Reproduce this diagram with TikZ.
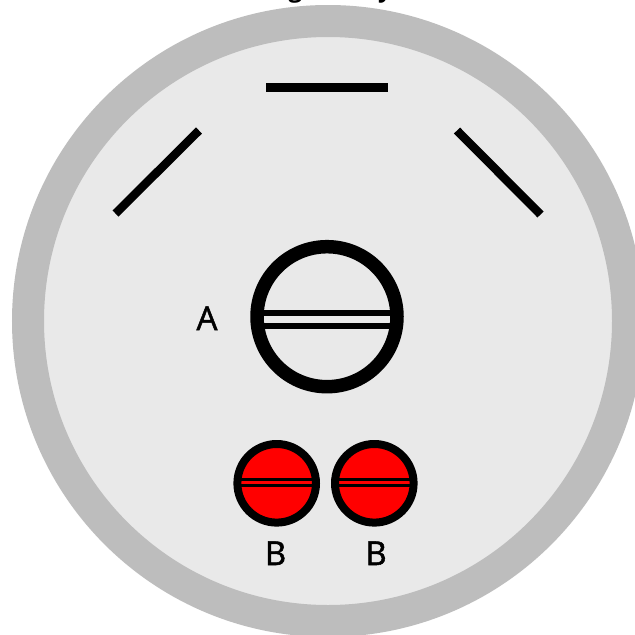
\documentclass[tikz,border=0pt]{standalone}
\usepackage{fontspec}
\setmainfont{Open Sans}
\newfontfamily\lblfont[FakeBold=1.5]{Open Sans}
\definecolor{ringgray}{HTML}{BDBDBD}
\definecolor{dishgray}{HTML}{E9E9E9}
\tikzset{
  px/.style={x=1pt,y=-1pt},
  lbl/.style={font=\lblfont\fontsize{33}{36}\selectfont,inner sep=0pt,text=black},
  cut/.style={font=\fontsize{24}{28}\selectfont\bfseries,inner sep=0pt,text=black},
  bar/.style={line width=#1,draw=black,line cap=butt},
  mark circle/.style={circle,draw=black,inner sep=0pt,outer sep=0pt}
}
\begin{document}
\begin{tikzpicture}[px]
\useasboundingbox (0,0) rectangle (635,635);
\clip (0,0) rectangle (635,635);
\fill[white] (0,0) rectangle (635,635);
\node[cut,anchor=base] (tg) at (295.5,-2.5) {g};
\node[cut,anchor=base] (ty) at (385,-2.5) {y};
\node[circle,fill=dishgray,draw=ringgray,line width=32pt,minimum size=600pt,inner sep=0pt,outer sep=0pt] (dish) at (328,321) {};
% slits
\coordinate (t1) at (266.3,87.5); \coordinate (t2) at (388.3,87.5);
\draw[bar=8.5pt] (t1) -- (t2);
\coordinate (l1) at (115.5,213.5); \coordinate (l2) at (199,130.5);
\draw[bar=8.5pt] (l1) -- (l2);
\coordinate (r1) at (540.5,214.5); \coordinate (r2) at (457,130.5);
\draw[bar=8.5pt] (r1) -- (r2);
% A
\draw[bar=6pt] (255,313.3) -- (399,313.3);
\draw[bar=6pt] (255,326) -- (399,326);
\node[mark circle,line width=13.5pt,minimum size=140pt] (a) at (327,316.7) {};
\node[lbl,anchor=base] (la) at (207,330) {A};
% B
\node[mark circle,fill=red,line width=8pt,minimum size=78.6pt] (b1) at (276.7,483.3) {};
\node[mark circle,fill=red,line width=8pt,minimum size=78.6pt] (b2) at (374.3,483.3) {};
\draw[bar=3pt] (240,479.2) -- (314,479.2);
\draw[bar=3pt] (240,485.7) -- (314,485.7);
\draw[bar=3pt] (338,479.2) -- (411,479.2);
\draw[bar=3pt] (338,485.7) -- (411,485.7);
\node[lbl,anchor=base] (lb1) at (275.5,565) {B};
\node[lbl,anchor=base] (lb2) at (376,565) {B};
\end{tikzpicture}
\end{document}
